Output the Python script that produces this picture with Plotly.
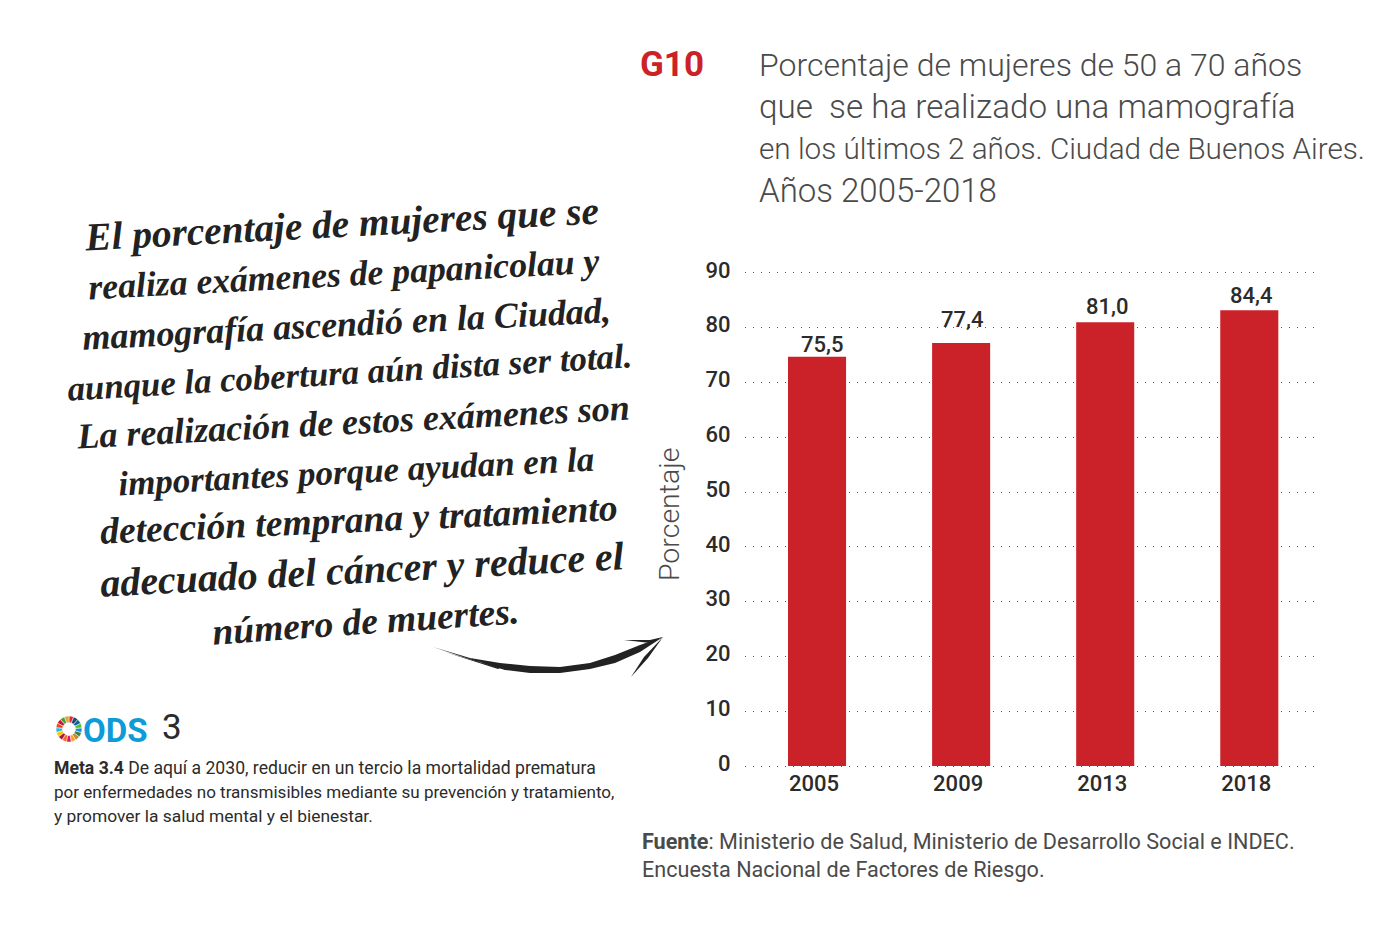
"""
Mamografia chart (G10) with the handwritten note and the ODS block.
"""

import plotly.graph_objects as go

W, H = 1397, 929
RED = '#cb2229'
INK = '#2b2b2b'
GREY = '#4a4a4a'
BLUE = '#0f9bd7'

years = ['2005', '2009', '2013', '2018']
# bar heights as drawn in the picture, the printed labels sit a bit apart from them
bar_heights = [74.7, 77.2, 81.0, 83.2]
bar_labels = ['75,5', '77,4', '81,0', '84,4']
y_ticks = [0, 10, 20, 30, 40, 50, 60, 70, 80, 90]

title_lines = [
    'Porcentaje de mujeres de 50 a 70 años',
    'que  se ha realizado una mamografía',
    'en los últimos 2 años. Ciudad de Buenos Aires.',
    'Años 2005-2018',
]
note_lines = [
    'El porcentaje de mujeres que se',
    'realiza exámenes de papanicolau y',
    'mamografía ascendió en la Ciudad,',
    'aunque la cobertura aún dista ser total.',
    'La realización de estos exámenes son',
    'importantes porque ayudan en la',
    'detección temprana y tratamiento',
    'adecuado del cáncer y reduce el',
    'número de muertes.',
]
meta_lines = [
    '<b>Meta 3.4</b> De aquí a 2030, reducir en un tercio la mortalidad prematura',
    'por enfermedades no transmisibles mediante su prevención y tratamiento,',
    'y promover la salud mental y el bienestar.',
]
source_lines = [
    '<b>Fuente</b>: Ministerio de Salud, Ministerio de Desarrollo Social e INDEC.',
    'Encuesta Nacional de Factores de Riesgo.',
]
ods_colors = ['#e5243b', '#dda63a', '#4c9f38', '#c5192d', '#ff3a21', '#26bde2',
              '#fcc30b', '#a21942', '#fd6925', '#dd1367', '#fd9d24', '#bf8b2e',
              '#3f7e44', '#0a97d9', '#56c02b', '#00689d', '#19486a']


def px(x):
    return x / W


def py(y):
    return 1 - y / H


def brush(points):
    return 'M ' + ' L '.join(f'{px(x):.5f} {py(y):.5f}' for x, y in points) + ' Z'


def label(x, y, text, size, color=INK, family='Roboto', anchor='left', angle=0, **font):
    return dict(x=px(x), y=py(y), xref='paper', yref='paper', text=text, showarrow=False,
                xanchor=anchor, yanchor='middle', align='left', textangle=angle,
                font=dict(family=family, size=size, color=color, **font))


fig = go.Figure()

fig.add_trace(go.Bar(x=years, y=bar_heights, width=0.403, marker_color=RED,
                     marker_line_width=0, hoverinfo='x+y', showlegend=False))

# ODS wheel
fig.add_trace(go.Pie(values=[1] * len(ods_colors), hole=0.5, sort=False, textinfo='none',
                     marker=dict(colors=ods_colors, line=dict(color='white', width=0.5)),
                     domain=dict(x=[px(56), px(82)], y=[py(742), py(716)]),
                     hoverinfo='skip', showlegend=False))

annotations = []

# value labels over the bars, x is the category index since year strings read as numbers
label_dx = [5, 1, 2, 2]
label_dy = [-2, 9, 1, 0]
for i, (value, text, dx, dy) in enumerate(zip(bar_heights, bar_labels, label_dx, label_dy)):
    annotations.append(dict(x=i, y=value, xref='x', yref='y', text=text, showarrow=False,
                            xshift=dx, yshift=dy, yanchor='bottom',
                            font=dict(family='Roboto', size=22, color=INK, weight=500)))

annotations.append(label(638, 65, 'G10', 35, RED, weight=700))
title_sizes = [32, 33.2, 29.7, 33]
for text, y, size in zip(title_lines, [65, 107, 148, 190], title_sizes):
    annotations.append(label(757, y, text, size, GREY, weight=300))

annotations.append(label(669, 515, 'Porcentaje', 28.5, GREY, anchor='center', angle=-90, weight=300))

note_pos = [(341, 224), (344, 274), (346, 324), (350, 372), (353, 422),
            (356, 471), (359, 519), (362, 569), (365, 621)]
note_angle = [-3, -3, -3, -3.4, -3, -3, -2.6, -3, -4]
note_size = [39.3, 35.7, 36, 34.8, 36, 35, 37.5, 39.9, 37.5]
for text, (x, y), angle, size in zip(note_lines, note_pos, note_angle, note_size):
    annotations.append(label(x, y, text, size, '#222222', 'Liberation Serif', 'center', angle,
                             style='italic', weight=700))

annotations.append(label(81, 730, 'ODS', 33, BLUE, weight=700))
annotations.append(label(160, 727, '3', 35, INK))
for text, y, size in zip(meta_lines, [768, 792, 816], [17.6, 17.05, 17.4]):
    annotations.append(label(52, y, text, size, INK))
for text, y in zip(source_lines, [841, 869]):
    annotations.append(label(640, y, text, 21.6, GREY, weight=400))

# brush arrow
shapes = [
    dict(type='path', xref='paper', yref='paper', fillcolor='#222222', line_width=0, path=p)
    for p in [
        brush([(470, 658), (500, 663), (530, 666), (560, 667), (590, 663), (615, 655),
               (640, 645), (663, 637), (640, 652), (615, 663), (590, 669), (560, 673),
               (530, 673), (505, 670), (485, 664)]),
        brush([(663, 637), (650, 640), (624, 640), (650, 643)]),
        brush([(663, 637), (648, 658), (631, 677), (644, 657)]),
        brush([(433, 647), (480, 661), (478, 662)]),
        brush([(445, 652), (500, 668), (498, 669)]),
    ]
]

fig.update_layout(
    width=W, height=H,
    margin=dict(l=0, r=0, t=0, b=0, autoexpand=False),
    paper_bgcolor='white', plot_bgcolor='white',
    showlegend=False,
    annotations=annotations,
    shapes=shapes,
    xaxis=dict(domain=[px(745), px(1317)], range=[-0.5, 3.47], type='category',
               showgrid=False, zeroline=False, showline=False, ticks='outside', ticklen=1,
               tickcolor='rgba(0,0,0,0)', ticklabelshift=-3, ticklabelstandoff=-9,
               tickfont=dict(family='Roboto', size=22, color=INK, weight=500)),
    # one unit of head room both ways, plotly drops gridlines sitting on the axis ends
    yaxis=dict(domain=[py(771.5), py(267.5)], range=[-1, 91], tickmode='array', tickvals=y_ticks,
               showgrid=True, gridcolor=RED, gridwidth=1.2, griddash='1px,7px',
               zeroline=False, showline=False, ticks='outside', ticklen=9,
               tickcolor='rgba(0,0,0,0)', ticklabelshift=-3,
               tickfont=dict(family='Roboto', size=22, color=INK, weight=500)),
)

fig.write_html("out.html", config={'displayModeBar': False},
               post_script="document.body.style.margin='0'")
